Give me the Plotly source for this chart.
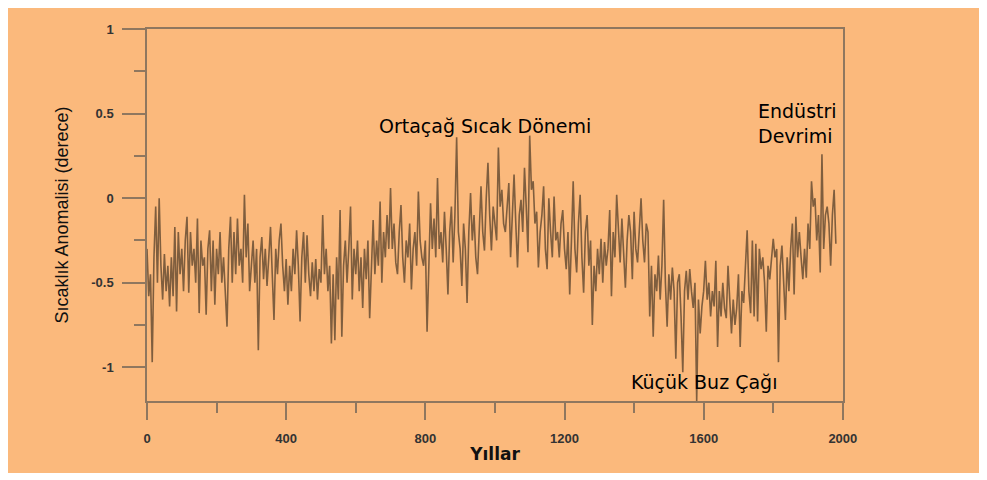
import plotly.graph_objects as go

# Years (5-year resolution) and temperature anomaly values
years = list(range(0, 1981, 5))

anomaly = [
    # 0-95
    -0.30, -0.58, -0.45, -0.97, -0.35, -0.05, -0.50, 0.00, -0.40, -0.60,
    -0.33, -0.55, -0.40, -0.64, -0.35, -0.58, -0.17, -0.67, -0.20, -0.45,
    # 100-195
    -0.30, -0.55, -0.25, -0.11, -0.56, -0.20, -0.40, -0.30, -0.50, -0.12,
    -0.68, -0.25, -0.40, -0.35, -0.69, -0.30, -0.19, -0.55, -0.25, -0.63,
    # 200-295
    -0.30, -0.45, -0.20, -0.50, -0.35, -0.55, -0.76, -0.30, -0.11, -0.50,
    -0.20, -0.45, -0.12, -0.40, -0.30, -0.50, 0.02, -0.35, -0.15, -0.55,
    # 300-395
    -0.40, -0.25, -0.50, -0.30, -0.90, -0.35, -0.23, -0.48, -0.30, -0.52,
    -0.35, -0.17, -0.45, -0.72, -0.30, -0.45, -0.25, -0.15, -0.40, -0.55,
    # 400-495
    -0.36, -0.63, -0.40, -0.55, -0.30, -0.45, -0.19, -0.40, -0.73, -0.35,
    -0.20, -0.50, -0.22, -0.45, -0.58, -0.38, -0.55, -0.36, -0.60, -0.42,
    # 500-595
    -0.50, -0.10, -0.45, -0.30, -0.55, -0.40, -0.86, -0.45, -0.84, -0.35,
    -0.60, -0.07, -0.82, -0.40, -0.25, -0.50, -0.30, -0.05, -0.60, -0.30,
    # 600-695
    -0.45, -0.25, -0.55, -0.35, -0.65, -0.30, -0.48, -0.25, -0.71, -0.40,
    -0.13, -0.45, -0.25, -0.40, -0.02, -0.50, -0.20, -0.35, -0.10, -0.30,
    # 700-795
    0.06, -0.30, -0.15, -0.38, -0.45, -0.20, -0.04, -0.35, -0.50, -0.25,
    -0.35, -0.15, -0.54, -0.30, -0.20, -0.40, 0.04, -0.25, -0.35, -0.40,
    # 800-895
    -0.25, -0.79, -0.40, -0.03, -0.30, -0.12, -0.35, 0.12, -0.30, -0.20,
    -0.38, -0.08, -0.30, -0.57, -0.20, -0.05, -0.38, -0.10, 0.36, -0.20,
    # 900-995
    -0.30, -0.52, -0.15, -0.30, -0.62, -0.20, 0.03, -0.25, -0.10, -0.35,
    -0.45, -0.15, 0.07, -0.20, -0.31, 0.00, 0.21, -0.10, -0.31, -0.05,
    # 1000-1095
    -0.15, -0.25, 0.30, -0.05, 0.05, -0.15, -0.20, -0.05, 0.09, -0.35,
    -0.10, 0.14, -0.15, -0.41, -0.10, -0.01, -0.20, 0.18, -0.05, -0.32,
    # 1100-1195
    0.37, 0.05, 0.10, -0.15, -0.08, -0.41, -0.20, -0.10, 0.07, -0.30,
    -0.42, 0.00, -0.20, -0.35, 0.01, -0.25, -0.20, -0.35, -0.15, -0.07,
    # 1200-1295
    -0.30, -0.42, -0.20, -0.57, -0.25, 0.10, -0.30, -0.44, -0.15, 0.02,
    -0.35, -0.56, -0.20, -0.10, -0.40, -0.25, -0.75, -0.40, -0.55, -0.30,
    # 1300-1395
    -0.45, -0.24, -0.50, -0.26, -0.40, -0.30, -0.07, -0.58, -0.20, -0.35,
    0.02, -0.20, -0.38, -0.12, -0.30, -0.53, -0.25, -0.10, -0.20, -0.48,
    # 1400-1495
    -0.08, -0.30, -0.38, -0.15, 0.00, -0.25, -0.38, -0.15, -0.20, -0.70,
    -0.40, -0.82, -0.45, -0.55, -0.34, -0.60, -0.40, -0.01, -0.50, -0.76,
    # 1500-1595
    -0.45, -0.60, -0.41, -0.55, -0.95, -0.50, -0.45, -0.70, -1.03, -0.55,
    -0.43, -0.60, -0.42, -0.55, -0.65, -0.50, -1.20, -0.60, -0.80, -0.64,
    # 1600-1695
    -0.55, -0.37, -0.60, -0.50, -0.70, -0.55, -0.64, -0.37, -0.88, -0.55,
    -0.70, -0.50, -0.65, -0.71, -0.40, -0.60, -0.80, -0.60, -0.75, -0.65,
    # 1700-1795
    -0.45, -0.88, -0.55, -0.62, -0.40, -0.19, -0.55, -0.68, -0.25, -0.70,
    -0.27, -0.73, -0.30, -0.42, -0.35, -0.50, -0.79, -0.40, -0.48, -0.35,
    # 1800-1895
    -0.24, -0.35, -0.30, -0.97, -0.40, -0.28, -0.50, -0.72, -0.35, -0.55,
    -0.30, -0.15, -0.57, -0.11, -0.35, -0.20, -0.35, -0.48, -0.30, -0.47,
    # 1900-1980
    -0.15, -0.30, 0.10, -0.05, 0.00, -0.25, -0.10, -0.44, 0.26, -0.30,
    -0.10, -0.05, -0.15, -0.40, -0.10, 0.05, -0.27,
]
assert len(years) == len(anomaly)

x_tick_vals = [0, 400, 800, 1200, 1600, 2000]
x_tick_text = ["0", "400", "800", "1200", "1600", "2000"]
y_tick_vals = [-1, -0.5, 0, 0.5, 1]
y_tick_text = ["-1", "-0.5", "0", "0.5", "1"]

x_title = "Yıllar"
y_title = "Sıcaklık Anomalisi (derece)"
label_warm = "Ortaçağ Sıcak Dönemi"
label_ind = "Endüstri<br>Devrimi"
label_ice = "Küçük Buz Çağı"

BG = "#FBB97C"
AXIS = "#8F775F"
LINE = "rgba(105,78,52,0.85)"
FONT = "Liberation Sans, Arial, sans-serif"
ANN_FONT = "DejaVu Sans, Liberation Sans, sans-serif"

# figure sits at an 8px page offset (body margin)
W, H = 979, 472
L, R, T, B = 139, 144, 21, 79
PW, PH = W - L - R, H - T - B

fig = go.Figure()
fig.add_trace(go.Scatter(
    x=years, y=anomaly, mode="lines",
    line=dict(color=LINE, width=1.6),
    hoverinfo="x+y", showlegend=False,
))

fig.update_layout(
    width=W, height=H,
    margin=dict(l=L, r=R, t=T, b=B),
    paper_bgcolor="white",
    plot_bgcolor="rgba(0,0,0,0)",
    font=dict(family=FONT, color="#222"),
    shapes=[dict(
        type="rect", xref="paper", yref="paper",
        x0=(-3 - L) / PW, x1=(972 - L) / PW,
        y0=(PH + T - 465) / PH, y1=(PH + T + 5) / PH,
        fillcolor=BG, line=dict(width=0), layer="below",
    )],
    xaxis=dict(
        range=[0, 2000.5],
        tickmode="array", tickvals=x_tick_vals, ticktext=x_tick_text,
        ticks="outside", ticklen=17, tickwidth=1.5, tickcolor=AXIS,
        ticklabelstandoff=8,
        minor=dict(dtick=200, tick0=0, ticks="outside", ticklen=10, tickwidth=1.5, tickcolor=AXIS),
        showline=True, linecolor=AXIS, linewidth=1.5, mirror=True,
        showgrid=False, zeroline=False,
        tickfont=dict(size=13, color="#333", family=FONT, weight="bold"),
        title=dict(text=x_title, font=dict(size=17, color="#111", family=ANN_FONT, weight="bold"), standoff=3),
    ),
    yaxis=dict(
        range=[-1.2, 1.001],
        tickmode="array", tickvals=y_tick_vals, ticktext=y_tick_text,
        ticks="outside", ticklen=23, tickwidth=1.5, tickcolor=AXIS,
        ticklabelstandoff=6,
        minor=dict(dtick=0.25, tick0=0, ticks="outside", ticklen=11, tickwidth=1.5, tickcolor=AXIS),
        showline=True, linecolor=AXIS, linewidth=1.5, mirror=True,
        showgrid=False, zeroline=False,
        tickfont=dict(size=13, color="#333", family=FONT, weight="bold"),
        title=dict(text=y_title, font=dict(size=18, color="#111", family=FONT), standoff=18),
    ),
    annotations=[
        dict(x=971, y=0.43, xref="x", yref="y", text=label_warm, showarrow=False,
             font=dict(size=19, color="#000", family=ANN_FONT), xanchor="center", yanchor="middle"),
        dict(x=1750, y=0.44, xref="x", yref="y", text=label_ind, showarrow=False, align="left",
             font=dict(size=19, color="#000", family=ANN_FONT), xanchor="left", yanchor="middle"),
        dict(x=1602, y=-1.085, xref="x", yref="y", text=label_ice, showarrow=False,
             font=dict(size=19, color="#000", family=ANN_FONT), xanchor="center", yanchor="middle"),
    ],
)

fig.write_html("out.html")
